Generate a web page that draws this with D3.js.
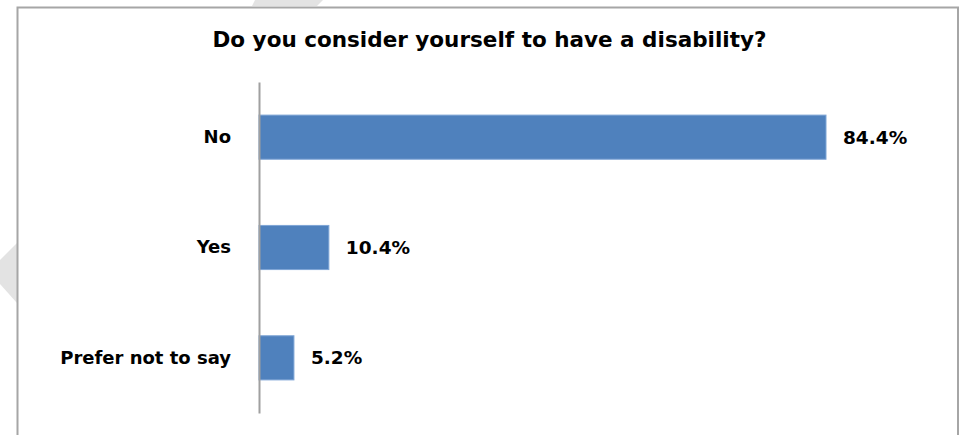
<!DOCTYPE html>
<html>
<head>
<meta charset="utf-8">
<script src="https://cdn.jsdelivr.net/npm/d3@7"></script>
<style>
  html, body { margin: 0; padding: 0; background: #ffffff; }
  svg { display: block; }
</style>
</head>
<body>
<div id="chart"></div>
<script>
const title = "Do you consider yourself to have a disability?";
const categories = ["No", "Yes", "Prefer not to say"];
const values = [84.4, 10.4, 5.2];
const valueLabels = ["84.4%", "10.4%", "5.2%"];

const W = 961, H = 435;
const svg = d3.select("#chart").append("svg").attr("width", W).attr("height", H);

// faint watermark fragments outside the chart frame
svg.append("polygon").attr("points", "255,0 323,0 317,6 252,6").attr("fill", "#e3e3e3");
svg.append("polygon").attr("points", "17,243 0,260 0,284 17,303").attr("fill", "#e3e3e3");

// chart frame (bottom edge falls outside the picture)
svg.append("rect")
  .attr("x", 17.5).attr("y", 7.5).attr("width", 940.5).attr("height", 440)
  .attr("fill", "#ffffff").attr("stroke", "#a6a6a6").attr("stroke-width", 2);

svg.append("text")
  .attr("x", 489.5).attr("y", 47)
  .attr("text-anchor", "middle")
  .attr("font-family", "DejaVu Sans, Verdana, sans-serif")
  .attr("font-weight", "bold")
  .attr("font-size", 20.5)
  .attr("textLength", 554).attr("lengthAdjust", "spacingAndGlyphs")
  .attr("fill", "#000")
  .text(title);

const x = d3.scaleLinear().domain([0, 90]).range([259, 259 + 567 * 90 / 84.4]);
const y = d3.scaleBand().domain(categories).range([82, 413]).paddingInner(0.6).paddingOuter(0.3);

const g = svg.append("g");
g.selectAll("rect.bar").data(values).join("rect")
  .attr("class", "bar")
  .attr("x", x(0))
  .attr("y", (d, i) => y(categories[i]))
  .attr("width", d => x(d) - x(0))
  .attr("height", y.bandwidth())
  .attr("fill", "#4f81bd")
  .attr("stroke", "#7fa6d6").attr("stroke-width", 1);

// vertical category axis
const yAxis = d3.axisLeft(y).tickSize(0).tickPadding(28);
const ax = svg.append("g").attr("transform", `translate(${x(0)},0)`).call(yAxis);
ax.select(".domain").attr("stroke", "#a0a0a0").attr("stroke-width", 2);
ax.selectAll(".tick text")
  .attr("font-family", "DejaVu Sans, Verdana, sans-serif")
  .attr("font-weight", "bold")
  .attr("font-size", 18)
  .attr("fill", "#000");

g.selectAll("text.val").data(values).join("text")
  .attr("class", "val")
  .attr("x", d => x(d) + 17)
  .attr("y", (d, i) => y(categories[i]) + y.bandwidth() / 2)
  .attr("dy", "0.35em")
  .attr("font-family", "DejaVu Sans, Verdana, sans-serif")
  .attr("font-weight", "bold")
  .attr("font-size", 18.5)
  .attr("fill", "#000")
  .text((d, i) => valueLabels[i]);
</script>
</body>
</html>
